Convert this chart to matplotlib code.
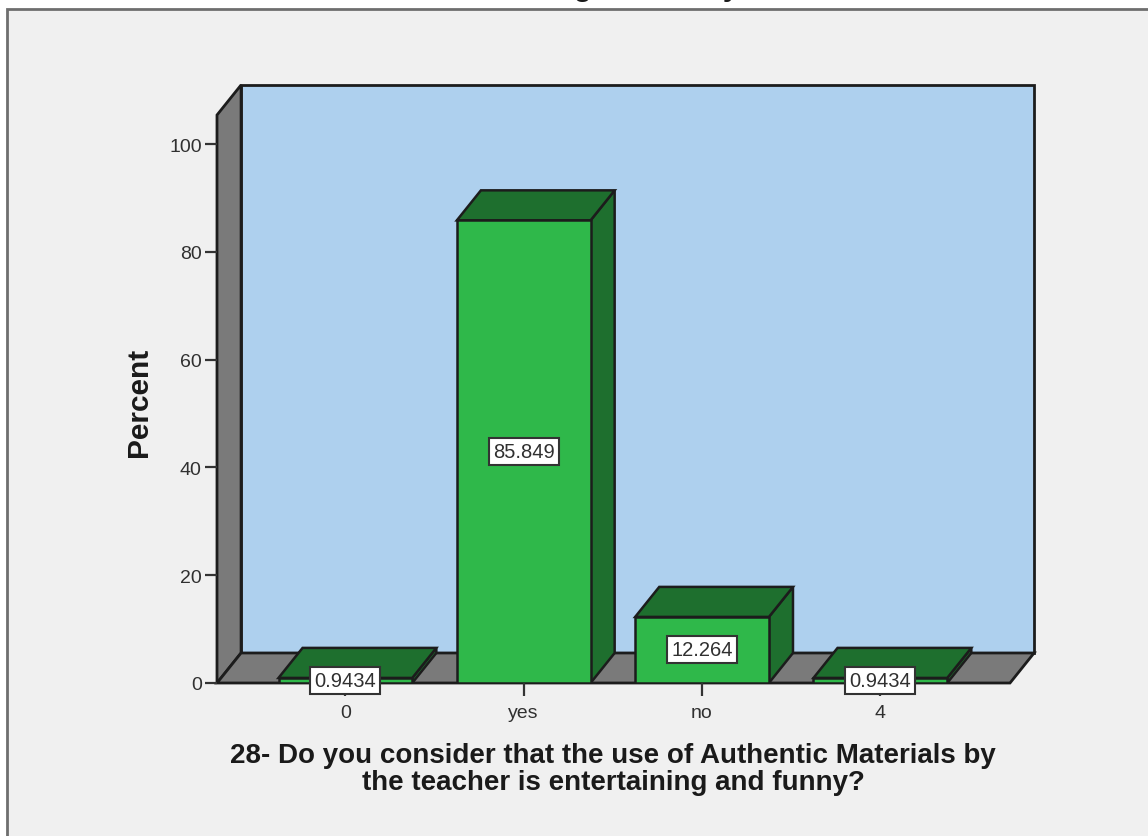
import matplotlib.pyplot as plt
from matplotlib.patches import Rectangle

categories = ['0', 'yes', 'no', '4']
percent = [0.9434, 85.849, 12.264, 0.9434]
value_labels = ['0.9434', '85.849', '12.264', '0.9434']
y_ticks = [0, 20, 40, 60, 80, 100]

W, H = 1148, 837
plt.rcParams['font.family'] = ['Liberation Sans', 'DejaVu Sans']

fig = plt.figure(figsize=(W / 100, H / 100), dpi=100, facecolor='white')

# outer chart frame, runs off the right and bottom of the image
fig.add_artist(Rectangle((7 / W, -0.05), 1.1, 1.05 - 10 / H, transform=fig.transFigure,
                         facecolor='#f0f0f0', edgecolor='#6e6e6e', linewidth=2, zorder=-1))

# axes covers the front plane of the fake 3D box
ax = fig.add_axes([217 / W, 1 - 684 / H, (1010 - 217) / W, (684 - 116) / H])
ax.patch.set_alpha(0)
ax.set_xlim(-0.72, 3.727)
ax.set_ylim(0, 105.4)
for s in ax.spines.values():
    s.set_visible(False)

# depth of the box and the bars, in data units
dx = 0.135
dy = 5.57
x0, x1 = ax.get_xlim()
y1 = ax.get_ylim()[1]
edge = '#1c1c1c'
bar_w = 0.75

# walls
ax.fill([x0 + dx, x1 + dx, x1 + dx, x0 + dx], [dy, dy, y1 + dy, y1 + dy],
        fc='#aed0ee', ec=edge, lw=2, clip_on=False, zorder=1)
ax.fill([x0, x0 + dx, x0 + dx, x0], [0, dy, y1 + dy, y1],
        fc='#7a7a7a', ec=edge, lw=2, clip_on=False, zorder=1)
ax.fill([x0, x1, x1 + dx, x0 + dx], [0, 0, dy, dy],
        fc='#7a7a7a', ec=edge, lw=2, clip_on=False, zorder=1)

# bars
for i, v in enumerate(percent):
    l, r = i - bar_w / 2, i + bar_w / 2
    ax.fill([r, r + dx, r + dx, r], [0, dy, v + dy, v],
            fc='#1e6f2e', ec=edge, lw=1.8, clip_on=False, zorder=3)
    ax.fill([l, r, r + dx, l + dx], [v, v, v + dy, v + dy],
            fc='#1e6f2e', ec=edge, lw=1.8, clip_on=False, zorder=3)
    ax.bar(i, v, bar_w, color='#2fb84a', edgecolor=edge, linewidth=1.8, zorder=4)
    ax.text(i, v / 2, value_labels[i], ha='center', va='center', fontsize=14.5,
            color='#303030', zorder=6,
            bbox=dict(boxstyle='square,pad=0.2', fc='white', ec='#333333', lw=1.5))

ax.set_xticks(range(len(categories)), categories)
ax.set_yticks(y_ticks)
ax.tick_params(axis='both', length=9, width=1.6, color='#333333', labelcolor='#303030',
               labelsize=14, pad=2)
ax.tick_params(axis='x', pad=6)

fig.text(139 / W, 1 - 402 / H, 'Percent', rotation=90, ha='center', va='center',
         fontsize=21.5, fontweight='bold', color='#1a1a1a')
fig.text(613 / W, 1 - 770 / H,
         '28- Do you consider that the use of Authentic Materials by\n'
         'the teacher is entertaining and funny?',
         ha='center', va='center', fontsize=20, fontweight='bold', color='#1a1a1a',
         linespacing=1.05)

# chart title is cut off by the top of the image, only descenders show
fig.text(582 / W, 1 + 12 / H, 'entertaining and funny', ha='center', va='center',
         fontsize=21, fontweight='bold', color='#1a1a1a')

fig.savefig('out.png', dpi=100)
